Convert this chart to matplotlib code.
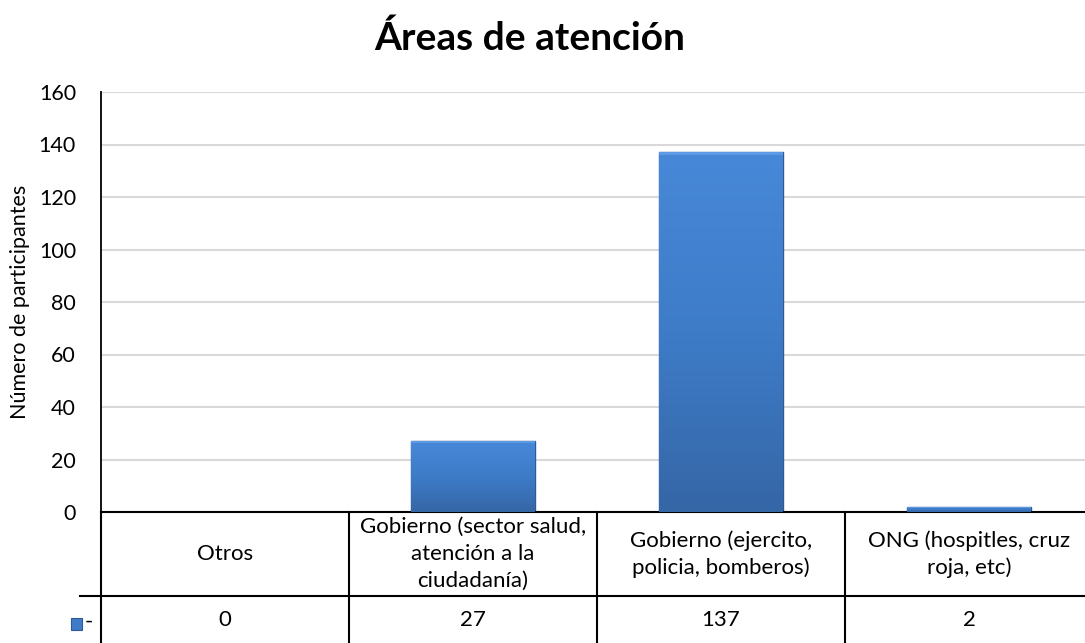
import matplotlib.pyplot as plt
import numpy as np
from matplotlib.lines import Line2D
from matplotlib.patches import Rectangle
from matplotlib.colors import LinearSegmentedColormap

# data
categories = ["Otros",
              "Gobierno (sector salud,\natención a la\nciudadanía)",
              "Gobierno (ejercito,\npolicia, bomberos)",
              "ONG (hospitles, cruz\nroja, etc)"]
values = [0, 27, 137, 2]
series_name = "-"
y_ticks = [0, 20, 40, 60, 80, 100, 120, 140, 160]

plt.rcParams['font.family'] = ['Lato', 'DejaVu Sans']

W, H = 1085, 643
fig = plt.figure(figsize=(W / 100, H / 100), dpi=100)
# axes placed in pixels: x 101..1093, y 92..512
ax = fig.add_axes([101 / W, (H - 512) / H, (1093 - 101) / W, (512 - 92) / H])
ax.set_yticks(y_ticks)
ax.tick_params(axis='y', length=0, labelsize=15.5, pad=18)
ax.set_xticks([])
for s in ['top', 'right', 'bottom']:
    ax.spines[s].set_visible(False)
ax.spines['left'].set_linewidth(1.3)
ax.grid(axis='y', color='#d9d9d9', linewidth=1.5)
ax.set_axisbelow(True)
ax.set_ylabel("Número de participantes", fontsize=15.5, labelpad=6)

# bars with a vertical gradient
grad = np.linspace(0, 1, 256).reshape(-1, 1)
cmap = LinearSegmentedColormap.from_list('bar', ['#3566a6', '#3e7cc8', '#4788d8'])
bars = ax.bar(range(len(values)), values, width=0.5, color='#3d78c5',
              edgecolor='#2e5b95', linewidth=1.0, zorder=2)
for b, v in zip(bars, values):
    if v <= 0:
        continue
    x0, w = b.get_x(), b.get_width()
    im = ax.imshow(grad, extent=[x0, x0 + w, 0, v], origin='lower', cmap=cmap,
                   aspect='auto', zorder=2.5)
    im.set_clip_path(b)
    bev = min(0.9, v * 0.3)
    ax.add_patch(Rectangle((x0, v - bev), w, bev, facecolor='#5d9ae4',
                           edgecolor='none', zorder=2.7))
ax.set_xlim(-0.5, len(categories) - 0.5)
ax.set_ylim(0, 160)

# data table below the axes
tr = ax.get_xaxis_transform()
ah = 512 - 92
def yf(py):
    return (512 - py) / ah

lw = 1.5
ax.add_line(Line2D([-0.5, 3.5], [0, 0], transform=tr, color='black', lw=lw, clip_on=False))
ax.add_line(Line2D([-0.5 - 21 / 248, 3.5], [yf(596), yf(596)], transform=tr,
                   color='black', lw=lw, clip_on=False))
for i in range(len(categories) + 1):
    xb = i - 0.5
    ax.add_line(Line2D([xb, xb], [yf(512), yf(660)], transform=tr, color='black',
                       lw=lw, clip_on=False))
line_h = 27
for i, (c, v) in enumerate(zip(categories, values)):
    lines = c.split("\n")
    top = 554 - line_h * (len(lines) - 1) / 2
    for k, ln in enumerate(lines):
        ax.text(i, yf(top + k * line_h), ln, transform=tr, ha='center', va='center',
                fontsize=16, clip_on=False)
    ax.text(i, yf(620), str(v), transform=tr, ha='center', va='center', fontsize=16,
            clip_on=False)

# legend key in the data row
kx = -0.5 - 30 / 248
ax.add_patch(Rectangle((kx, yf(630)), 11 / 248, yf(618) - yf(630), transform=tr,
                       facecolor='#3e7cc8', edgecolor='#2e5b95', lw=0.8, clip_on=False))
ax.text(-0.5 - 12 / 248, yf(622), series_name, transform=tr, ha='center', va='center',
        fontsize=16, clip_on=False)

fig.text(530 / W, 1 - 38 / H, "Áreas de atención", ha='center',
         va='center', fontsize=28, fontweight='bold')

fig.savefig("out.png", dpi=100)
